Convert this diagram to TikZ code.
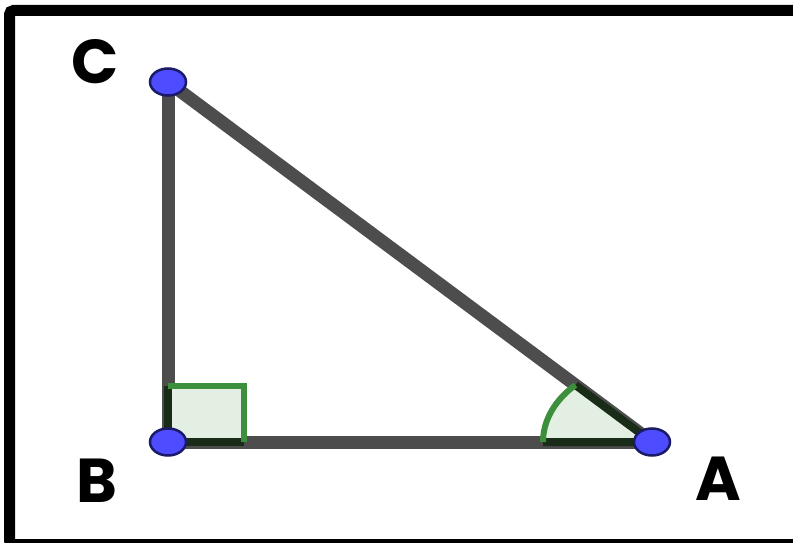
\documentclass[tikz,border=0pt]{standalone}
\usepackage{fontspec}
\setmainfont{Poppins}
\usetikzlibrary{positioning}
\definecolor{seggray}{RGB}{77,77,77}
\definecolor{ptblue}{RGB}{77,77,255}
\definecolor{ptedge}{RGB}{26,26,102}
\definecolor{anggreen}{RGB}{61,143,61}
\definecolor{angfill}{RGB}{228,239,228}
\definecolor{angdark}{RGB}{24,44,24}

\begin{document}
\begin{tikzpicture}[x=1pt,y=1pt,
 frame/.style={draw=black,line width=11pt,rounded corners=4pt},
 side/.style={draw=seggray,line width=13pt},
 markedge/.style={draw=angdark,line width=8pt},
 markarc/.style={draw=anggreen,line width=6pt},
 dot/.style={fill=ptblue,draw=ptedge,line width=2.5pt},
 lbl/.style={inner sep=0pt,font=\fontsize{62}{62}\selectfont\bfseries}]
\useasboundingbox (0,0) rectangle (793,542);
\clip (0,0) rectangle (793,542);
\draw[frame] (9.5,531.5) rectangle (815,-2.5);
% vertices
\coordinate (A) at (652,100);
\coordinate (B) at (168,100);
\coordinate (C) at (168,460);
% sides
\draw[side] (B) -- (A);
\draw[side] (B) -- (C);
\draw[side] (C) -- (A);
% right angle at B
\fill[angfill] (B) rectangle ++(76,56);
\draw[markedge] (B) ++(0,56) -- (B) -- ++(76,0);
\draw[markarc] (B) ++(0,56) -- ++(76,0) -- ++(0,-56);
% angle at A
\fill[angfill] (A) -- ++(-109,0) arc[start angle=180,end angle=134.61,x radius=109,y radius=80] coordinate (a2) -- cycle;
\draw[markedge] (a2) -- (A) -- ++(-109,0);
\draw[markarc] (A) ++(-109,0) arc[start angle=180,end angle=134.61,x radius=109,y radius=80];
% points
\foreach \p in {A,B,C}
  \path[dot] (\p) ellipse (18 and 13.5);
% labels
\node[lbl] (lblC) at (95,480) {C};
\node[lbl] (lblB) at (97,61) {B};
\node[lbl] (lblA) at (718,63) {A};
\end{tikzpicture}
\end{document}
